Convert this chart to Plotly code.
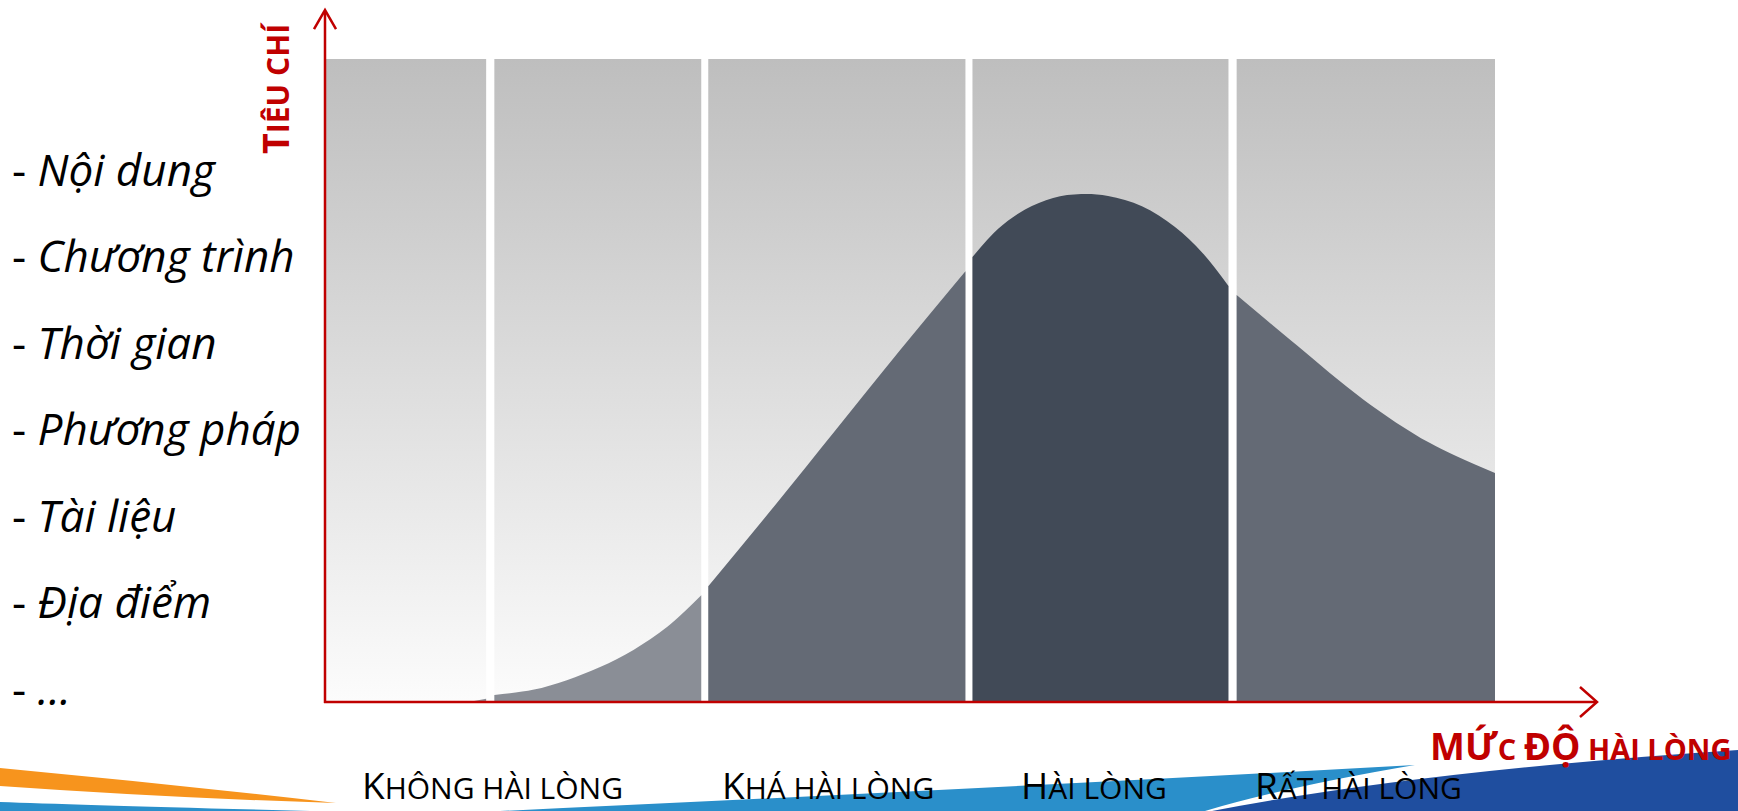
import plotly.graph_objects as go

W, H = 1738, 811

# ---------------- data ----------------
# column (band) edges on the satisfaction scale, 0..100
col_left = [0.0, 14.4, 32.7, 55.3, 77.9]
col_right = [13.7, 32.1, 54.7, 77.2, 100.0]
col_fill = ["#8a8e96", "#8a8e96", "#646a75", "#414a57", "#646a75"]

# distribution curve (x on same scale, y = 0..100 of panel height)
curve_x = [0.0, 11.9, 13.7, 14.4, 17.7, 20.6, 23.4, 26.3, 29.2, 32.1,
           32.7, 38.5, 43.6, 49.1, 54.7,
           55.3, 57.5, 59.8, 62.2, 64.6, 66.9, 69.8, 72.6, 75.0, 77.2,
           77.9, 83.1, 88.7, 94.4, 100.0]
curve_y = [0.0, 0.0, 0.5, 1.1, 1.9, 3.4, 5.4, 8.1, 11.7, 16.6,
           18.0, 30.8, 42.3, 54.7, 67.0,
           69.2, 73.6, 76.6, 78.4, 79.0, 78.7, 77.1, 73.9, 69.8, 64.7,
           63.3, 55.4, 47.1, 40.3, 35.6]

criteria = ["Nội dung", "Chương trình", "Thời gian", "Phương pháp",
            "Tài liệu", "Địa điểm", "..."]

# category labels: (big first letter, small-caps rest)
categories = [("K", "HÔNG HÀI LÒNG"), ("K", "HÁ HÀI LÒNG"), ("H", "ÀI LÒNG"), ("R", "ẤT HÀI LÒNG")]

# ---------------- layout geometry (pixels) ----------------
PANEL_L, PANEL_R, PANEL_T, PANEL_B = 326, 1495, 59, 702
sx = (PANEL_R - PANEL_L) / 100.0
sy = (PANEL_B - PANEL_T) / 100.0
x_range = [(0 - PANEL_L) / sx, (W - PANEL_L) / sx]
y_range = [(PANEL_B - H) / sy, (PANEL_B - 0) / sy]

def PX(x):
    return x / W

def PY(y):
    return 1 - y / H

def path(points, close=True):
    s = "M " + " L ".join(f"{PX(x):.5f},{PY(y):.5f}" for x, y in points)
    return s + (" Z" if close else "")

def qpath(segs):
    out = []
    for seg in segs:
        cmd = seg[0]
        pts = seg[1:]
        out.append(cmd + " " + " ".join(f"{PX(x):.5f},{PY(y):.5f}" for x, y in pts))
    return " ".join(out) + " Z"

fig = go.Figure()

# gradient panels
for l, r in zip(col_left, col_right):
    fig.add_trace(go.Scatter(
        x=[l, r, r, l, l], y=[0, 0, 100, 100, 0],
        fill="toself", mode="none",
        fillgradient=dict(type="vertical",
                          colorscale=[[0, "#fcfcfc"], [1, "#bebebe"]]),
        hoverinfo="skip", showlegend=False))

# curve fills per column
for l, r, c in zip(col_left, col_right, col_fill):
    xs, ys = [], []
    for xv, yv in zip(curve_x, curve_y):
        if l - 1e-9 <= xv <= r + 1e-9:
            xs.append(xv)
            ys.append(yv)
    fig.add_trace(go.Scatter(
        x=xs, y=ys, fill="tozeroy", fillcolor=c, mode="lines",
        line=dict(width=0, color=c, shape="spline", smoothing=1.0),
        hoverinfo="skip", showlegend=False))

RED = "#c00000"
shapes = []
# bottom decoration swooshes
shapes.append(dict(type="path", xref="paper", yref="paper", line=dict(width=0),
                   fillcolor="#f7941d", layer="below",
                   path=qpath([("M", (0, 768)), ("Q", (170, 784), (336, 803)),
                               ("Q", (170, 798), (0, 786))])))
shapes.append(dict(type="path", xref="paper", yref="paper", line=dict(width=0),
                   fillcolor="#2a8fca", layer="below",
                   path=qpath([("M", (0, 802)), ("Q", (80, 805), (310, 811)),
                               ("L", (0, 811))])))
shapes.append(dict(type="path", xref="paper", yref="paper", line=dict(width=0),
                   fillcolor="#2a8fca", layer="below",
                   path=qpath([("M", (500, 811)), ("Q", (1000, 788), (1415, 765)),
                               ("Q", (1290, 786), (1205, 811))])))
shapes.append(dict(type="path", xref="paper", yref="paper", line=dict(width=0),
                   fillcolor="#1f4e9f", layer="below",
                   path=qpath([("M", (1212, 811)), ("Q", (1420, 771), (1738, 750)),
                               ("L", (1738, 811))])))

# axes with open arrowheads
AX_X, AX_Y = 325, 702
shapes.append(dict(type="line", xref="paper", yref="paper",
                   x0=PX(AX_X), y0=PY(AX_Y + 1), x1=PX(AX_X), y1=PY(11),
                   line=dict(color=RED, width=2.5)))
shapes.append(dict(type="line", xref="paper", yref="paper",
                   x0=PX(AX_X - 1), y0=PY(AX_Y), x1=PX(1596), y1=PY(AX_Y),
                   line=dict(color=RED, width=2.5)))
shapes.append(dict(type="path", xref="paper", yref="paper",
                   path=path([(AX_X - 11, 29), (AX_X, 10), (AX_X + 11, 29)], close=False),
                   line=dict(color=RED, width=2.5)))
shapes.append(dict(type="path", xref="paper", yref="paper",
                   path=path([(1580, AX_Y - 15), (1597, AX_Y), (1580, AX_Y + 15)], close=False),
                   line=dict(color=RED, width=2.5)))

annotations = []
# left list of criteria
row_y = [169, 255, 342, 428, 515, 601, 688]
for txt, yy in zip(criteria, row_y):
    annotations.append(dict(
        xref="paper", yref="paper", x=PX(10), y=PY(yy),
        xanchor="left", yanchor="middle", showarrow=False,
        text=f"- <i>{txt}</i>",
        font=dict(family="Open Sans", size=44, color="#000000")))

# y axis title (small caps)
annotations.append(dict(
    xref="paper", yref="paper", x=PX(275), y=PY(88),
    xanchor="center", yanchor="middle", showarrow=False, textangle=-90,
    text="<span style='font-size:36px'>T</span>IÊU CHÍ",
    font=dict(family="Open Sans", size=30, color=RED, weight="bold")))

# x axis title (small caps)
annotations.append(dict(
    xref="paper", yref="paper", x=PX(1428), y=PY(745),
    xanchor="left", yanchor="middle", showarrow=False,
    text="<span style='font-size:37px'>MỨ</span>C <span style='font-size:37px'>ĐỘ</span> HÀI LÒNG",
    font=dict(family="Open Sans", size=29, color=RED, weight="bold")))

# category labels
cat_x = [361, 721, 1020, 1254]
for (big, small), xx in zip(categories, cat_x):
    annotations.append(dict(
        xref="paper", yref="paper", x=PX(xx), y=PY(H), borderpad=0,
        xanchor="left", yanchor="bottom", showarrow=False,
        text=f"<span style='font-size:37px'>{big}</span>{small}",
        font=dict(family="Open Sans", size=30, color="#000000")))

fig.update_layout(
    width=W, height=H, margin=dict(l=0, r=0, t=0, b=0),
    paper_bgcolor="white", plot_bgcolor="white",
    xaxis=dict(range=x_range, visible=False, fixedrange=True),
    yaxis=dict(range=y_range, visible=False, fixedrange=True),
    shapes=shapes, annotations=annotations, showlegend=False)

fig.write_html("out.html")
